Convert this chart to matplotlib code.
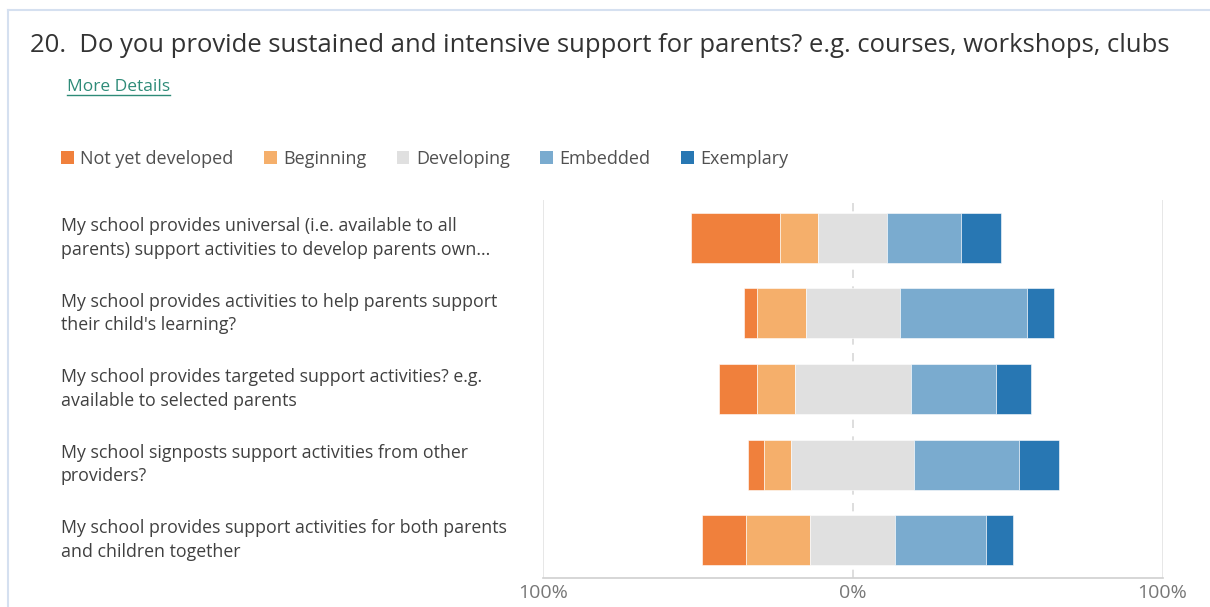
import numpy as np
import matplotlib.pyplot as plt
from matplotlib import transforms
from matplotlib.lines import Line2D
from matplotlib.patches import Patch

plt.rcParams['font.family'] = ['Open Sans', 'DejaVu Sans']

questions = [
    "My school provides universal (i.e. available to all\nparents) support activities to develop parents own...",
    "My school provides activities to help parents support\ntheir child's learning?",
    "My school provides targeted support activities? e.g.\navailable to selected parents",
    "My school signposts support activities from other\nproviders?",
    "My school provides support activities for both parents\nand children together",
]
levels = ['Not yet developed', 'Beginning', 'Developing', 'Embedded', 'Exemplary']
colors = ['#F0803C', '#F5AF6B', '#E0E0E0', '#7AABCF', '#2877B3']

# percentage of responses per level, one value per question
not_yet = [28.9, 4.2, 12.2, 5.1, 14.2]
beginning = [12.2, 15.6, 12.3, 9.0, 20.8]
developing = [22.4, 30.5, 37.4, 39.6, 27.5]
embedded = [23.9, 41.1, 27.5, 34.0, 29.4]
exemplary = [12.7, 8.6, 11.2, 12.7, 8.6]

series = np.array([not_yet, beginning, developing, embedded, exemplary])
# centre the "Developing" block on zero
start = -(series[0] + series[1] + series[2] / 2)

W, H = 1210, 607
fig = plt.figure(figsize=(W / 100, H / 100), dpi=100)
fig.patch.set_facecolor('white')

# card border (top and left edges visible)
fig.add_artist(Line2D([8 / W, 1], [1 - 10 / H, 1 - 10 / H], color='#D5E0F0', lw=1.5,
                      transform=fig.transFigure))
fig.add_artist(Line2D([8 / W, 8 / W], [1 - 10 / H, 0], color='#D5E0F0', lw=1.5,
                      transform=fig.transFigure))

fig.text(30 / W, 1 - 52 / H,
         "20.  Do you provide sustained and intensive support for parents? e.g. courses, workshops, clubs",
         fontsize=18.45, color='#333333', va='baseline', ha='left')

link = fig.text(67 / W, 1 - 91 / H, "More Details", fontsize=12.5, color='#2E8B78',
                va='baseline', ha='left')
fig.canvas.draw()
bb = link.get_window_extent(fig.canvas.get_renderer())
fig.add_artist(Line2D([bb.x0 / W, bb.x1 / W], [1 - 95 / H, 1 - 95 / H], color='#2E8B78',
                      lw=1, transform=fig.transFigure))

ax = fig.add_axes([543 / W, 1 - 578 / H, 619.5 / W, 378 / H])
y = np.arange(len(questions))
left = start.copy()
for vals, col, name in zip(series, colors, levels):
    ax.barh(y, vals, left=left, height=0.66, color=col, edgecolor='white', linewidth=0.4,
            label=name, zorder=3)
    left = left + vals

ax.set_xlim(-100, 100)
ax.set_ylim(len(questions) - 0.5, -0.5)
ax.axvline(0, color='#D8D8D8', lw=1.2, ls=(0, (5, 5)), zorder=1)
for xv in (-100, 100):
    ax.axvline(xv, color='#E3E3E3', lw=1.2, zorder=1)
for s in ['top', 'left', 'right']:
    ax.spines[s].set_visible(False)
ax.spines['bottom'].set_color('#D0D0D0')
ax.spines['bottom'].set_linewidth(1.2)
ax.set_yticks([])
ax.set_xticks([-100, 0, 100], ['100%', '0%', '100%'])
ax.tick_params(axis='x', length=0, pad=4, labelsize=14, labelcolor='#777777')

# question labels sit at the left edge of the card
trans = transforms.blended_transform_factory(fig.transFigure, ax.transData)
for yi, q in zip(y, questions):
    ax.text(61 / W, yi, q, transform=trans, ha='left', va='center', fontsize=12.8,
            color='#404040', linespacing=1.4)

handles = [Patch(facecolor=c, edgecolor='none') for c in colors]
fig.legend(handles, levels, loc='center left', bbox_to_anchor=(61 / W, 1 - 159 / H),
           ncol=5, frameon=False, fontsize=13, labelcolor='#505050',
           handlelength=0.7, handleheight=0.7, handletextpad=0.35, columnspacing=1.7,
           borderaxespad=0, borderpad=0)

fig.savefig('out.png', dpi=100, facecolor='white')
